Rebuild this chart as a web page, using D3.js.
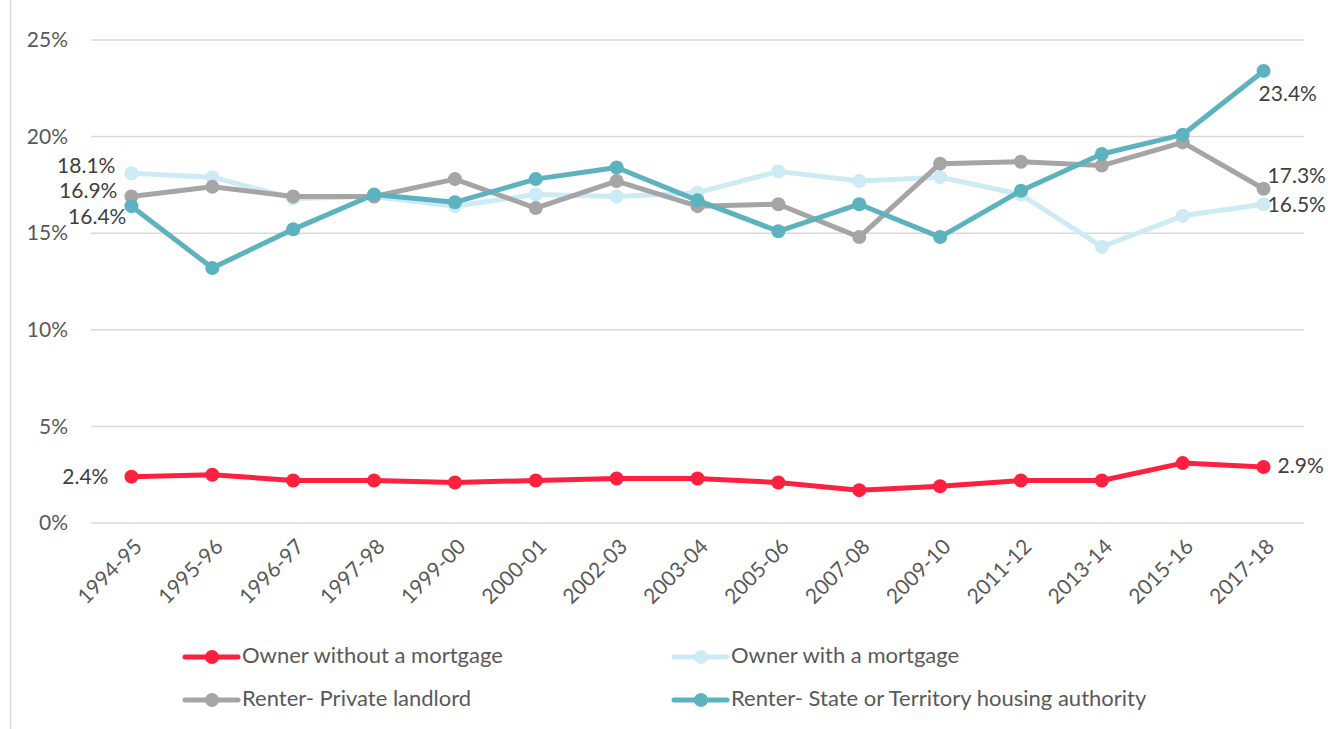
<!DOCTYPE html>
<html><head><meta charset="utf-8">
<script src="https://cdn.jsdelivr.net/npm/d3@7"></script>
<style>body{margin:0;background:#fff}svg{display:block}text{font-family:Lato,"Open Sans",sans-serif}</style>
</head><body><svg id="c" width="1328" height="729"></svg>
<script>
const categories = ["1994-95","1995-96","1996-97","1997-98","1999-00","2000-01","2002-03","2003-04","2005-06","2007-08","2009-10","2011-12","2013-14","2015-16","2017-18"];
const ownerNoMortgage = [2.4,2.5,2.2,2.2,2.1,2.2,2.3,2.3,2.1,1.7,1.9,2.2,2.2,3.1,2.9];
const ownerMortgage = [18.1,17.9,16.8,16.9,16.4,17.0,16.9,17.1,18.2,17.7,17.9,17.0,14.3,15.9,16.5];
const renterPrivate = [16.9,17.4,16.9,16.9,17.8,16.3,17.7,16.4,16.5,14.8,18.6,18.7,18.5,19.7,17.3];
const renterState = [16.4,13.2,15.2,17.0,16.6,17.8,18.4,16.7,15.1,16.5,14.8,17.2,19.1,20.1,23.4];
const yTicks = [0,5,10,15,20,25];
const seriesNames = ["Owner without a mortgage","Owner with a mortgage","Renter- Private landlord","Renter- State or Territory housing authority"];

const series = [
  {name:seriesNames[0], values:ownerNoMortgage, color:"#FF1F3F"},
  {name:seriesNames[1], values:ownerMortgage, color:"#CDEBF5"},
  {name:seriesNames[2], values:renterPrivate, color:"#A5A5A5"},
  {name:seriesNames[3], values:renterState, color:"#5DB2C0"}
];

const svg = d3.select("#c");
svg.append("rect").attr("x",10.5).attr("y",-2).attr("width",1330).attr("height",740)
  .attr("fill","none").attr("stroke","#d9d9d9").attr("stroke-width",1.5);

const x = d3.scaleBand().domain(categories).range([91,1304]);
const y = d3.scaleLinear().domain([0,25]).range([523,40]);
const cx = c => x(c) + x.bandwidth()/2;

// gridlines
svg.append("g").selectAll("line").data(yTicks).join("line")
  .attr("x1",91).attr("x2",1304).attr("y1",d=>y(d)).attr("y2",d=>y(d))
  .attr("stroke","#d9d9d9").attr("stroke-width",1.5);

// y axis
const yAxis = d3.axisLeft(y).tickValues(yTicks).tickFormat(d=>d+"%").tickSize(0).tickPadding(0);
const gy = svg.append("g").attr("transform","translate(68,0)").call(yAxis);
gy.select(".domain").remove();
gy.selectAll("text").attr("font-size",21).attr("fill","#595959").attr("font-family","Lato");

// x axis
const xAxis = d3.axisBottom(x).tickSize(0).tickPadding(0);
const gx = svg.append("g").attr("transform","translate(0,523)").call(xAxis);
gx.select(".domain").remove();
gx.selectAll("text").attr("font-size",21).attr("fill","#595959").attr("font-family","Lato")
  .attr("text-anchor","end").attr("dy",null).attr("y",0)
  .attr("transform","translate(12,25) rotate(-45)");

// lines
const line = d3.line().x((d,i)=>cx(categories[i])).y(d=>y(d));
const order = [1,2,3,0];
order.forEach(k=>{
  const s = series[k];
  const g = svg.append("g");
  g.append("path").attr("d",line(s.values)).attr("fill","none").attr("stroke",s.color)
    .attr("stroke-width",5).attr("stroke-linejoin","round");
  g.selectAll("circle").data(s.values).join("circle")
    .attr("cx",(d,i)=>cx(categories[i])).attr("cy",d=>y(d)).attr("r",7).attr("fill",s.color);
});

// data labels
const lbl = (txt,xx,yy,anchor)=>svg.append("text").attr("x",xx).attr("y",yy).attr("text-anchor",anchor)
  .attr("dominant-baseline","middle").attr("font-size",21).attr("fill","#404040").text(txt);
const f = v=>v.toFixed(1)+"%";
const first = cx(categories[0]), last = cx(categories[categories.length-1]);
lbl(f(ownerMortgage[0]), first-16, y(ownerMortgage[0])-6, "end");
lbl(f(renterPrivate[0]), first-14, y(renterPrivate[0])-4, "end");
lbl(f(renterState[0]), first-5, y(renterState[0])+13, "end");
lbl(f(ownerNoMortgage[0]), first-23, y(ownerNoMortgage[0])+2, "end");
lbl(f(renterState[14]), last-5, y(renterState[14])+25, "start");
lbl(f(renterPrivate[14]), last+4, y(renterPrivate[14])-11, "start");
lbl(f(ownerMortgage[14]), last+4, y(ownerMortgage[14])+2, "start");
lbl(f(ownerNoMortgage[14]), last+14, y(ownerNoMortgage[14])+1, "start");

// legend
const legPos = [[185,657],[674,657],[185,700],[674,700]];
series.forEach((s,i)=>{
  const [lx,ly] = legPos[i];
  const g = svg.append("g");
  g.append("line").attr("x1",lx).attr("x2",lx+53).attr("y1",ly).attr("y2",ly)
    .attr("stroke",s.color).attr("stroke-width",5).attr("stroke-linecap","round");
  g.append("circle").attr("cx",lx+27).attr("cy",ly).attr("r",7).attr("fill",s.color);
  g.append("text").attr("x",lx+57).attr("y",ly).attr("dominant-baseline","middle")
    .attr("font-size",22).attr("fill","#595959").text(s.name);
});
</script></body></html>
